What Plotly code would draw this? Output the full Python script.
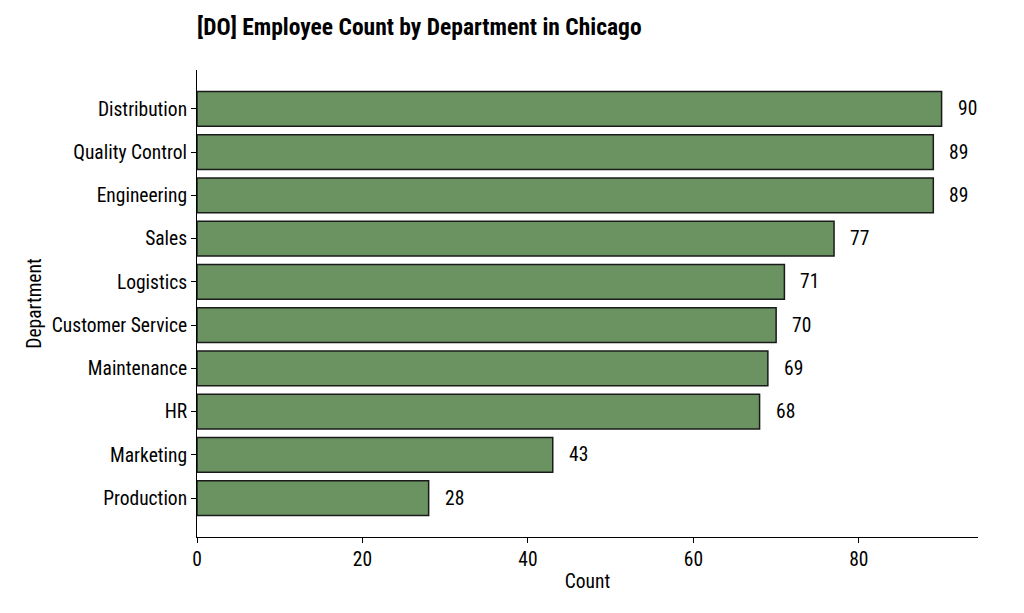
import plotly.graph_objects as go

departments = ["Distribution", "Quality Control", "Engineering", "Sales", "Logistics",
               "Customer Service", "Maintenance", "HR", "Marketing", "Production"]
counts = [90, 89, 89, 77, 71, 70, 69, 68, 43, 28]

title_text = "[DO] Employee Count by Department in Chicago"
FONT = "Roboto Condensed, Roboto, sans-serif"

fig = go.Figure()
fig.add_trace(go.Bar(
    x=counts, y=departments, orientation="h",
    width=0.8,
    marker=dict(color="#6b9362", line=dict(color="#1a1a1a", width=1.5)),
    hoverinfo="x+y",
))
for d, c in zip(departments, counts):
    fig.add_annotation(x=c, y=d, text=str(c), showarrow=False, xanchor="left",
                       xshift=14, font=dict(size=19.5, color="black", family=FONT))

fig.update_layout(
    width=1024, height=613,
    margin=dict(l=189, r=54, t=62, b=84),
    plot_bgcolor="white", paper_bgcolor="white",
    font=dict(family=FONT, size=19.5, color="black"),
    title=dict(text="<b>" + title_text + "</b>", x=189/1024, xanchor="left",
               y=0.969, yanchor="middle", font=dict(size=23.5, color="black")),
    showlegend=False,
    bargap=0.2,
)
fig.update_xaxes(range=[0, 94.4], tickvals=[0, 20, 40, 60, 80], showgrid=False,
                 zeroline=False, showline=True, linecolor="black", linewidth=1,
                 ticks="outside", ticklen=5, tickcolor="black",
                 title=dict(text="Count", standoff=3, font=dict(size=19.5)))
fig.update_yaxes(categoryorder="array", categoryarray=departments, autorange=False,
                 range=[9.9, -0.9], showgrid=False, zeroline=False, showline=True,
                 linecolor="black", linewidth=1, ticks="outside", ticklen=5,
                 tickcolor="black",
                 title=dict(text="Department", standoff=4, font=dict(size=19.5)))

fig.write_html("out.html")
